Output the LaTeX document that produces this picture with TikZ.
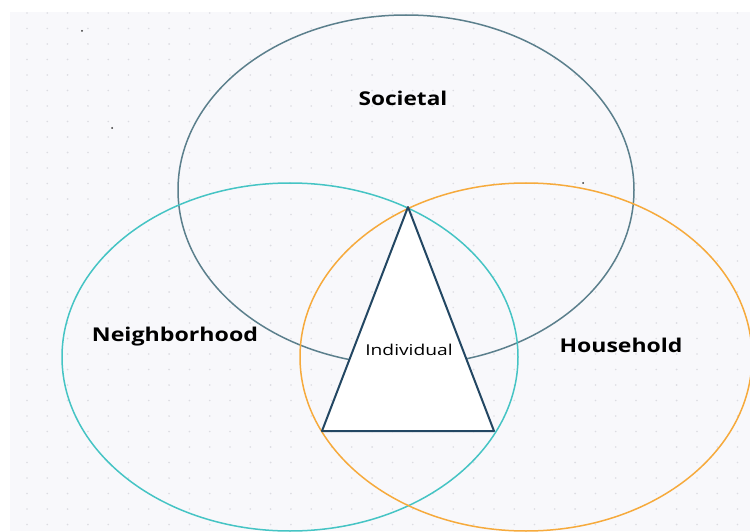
\documentclass[tikz,border=0pt]{standalone}
\usepackage{fontspec}
\setmainfont{Open Sans}
\begin{document}
\begin{tikzpicture}[x=1pt,y=-1pt,
  ring/.style={line width=1.5pt},
  lbl/.style={font=\fontsize{19}{22}\selectfont\bfseries, text=black, inner sep=0pt},
  smalllbl/.style={font=\fontsize{15}{17}\selectfont, text=black, inner sep=0pt}]
\definecolor{bgc}{HTML}{F8F8FB}
\definecolor{dotc}{HTML}{DCDCE2}
\definecolor{soc}{HTML}{5B7F8C}
\definecolor{nei}{HTML}{45C4C4}
\definecolor{hou}{HTML}{F6AA3C}
\definecolor{tri}{HTML}{234763}
\useasboundingbox (0,0) rectangle (750,532);
\fill[white] (0,0) rectangle (750,532);
\fill[bgc] (10,12) rectangle (750,531);
\foreach \i in {0,...,35} {
  \foreach \j in {0,...,33} {
    \fill[dotc] ({27+20.3*\i},{13+15.5*\j}) circle (0.9);
  }
}
% stray marks
\fill[black!80] (82,31) circle (1);
\fill[black!80] (112,128) circle (1);
\fill[black!80] (583,183) circle (1);
% ellipses
\coordinate (socc) at (406,190);
\coordinate (neic) at (290,357);
\coordinate (houc) at (526,357);
\draw[ring, soc] (socc) ellipse [x radius=228, y radius=175];
\draw[ring, nei] (neic) ellipse [x radius=228, y radius=174];
\draw[ring, hou] (houc) ellipse [x radius=226, y radius=174];
% triangle
\coordinate (apex) at (408,207);
\coordinate (bl) at (322,431);
\coordinate (br) at (494,431);
\draw[tri, fill=white, line width=2pt, line join=round] (apex) -- (bl) -- (br) -- cycle;
% labels
\node[lbl] (societal) at (403,98) {\scalebox{1.19}[1]{Societal}};
\node[lbl] (neighborhood) at (175,337) {\scalebox{1.22}[1]{Neighborhood}};
\node[lbl] (household) at (621,345) {\scalebox{1.21}[1]{Household}};
\node[smalllbl] (individual) at (409,350) {\scalebox{1.28}[1]{Individual}};
\end{tikzpicture}
\end{document}
